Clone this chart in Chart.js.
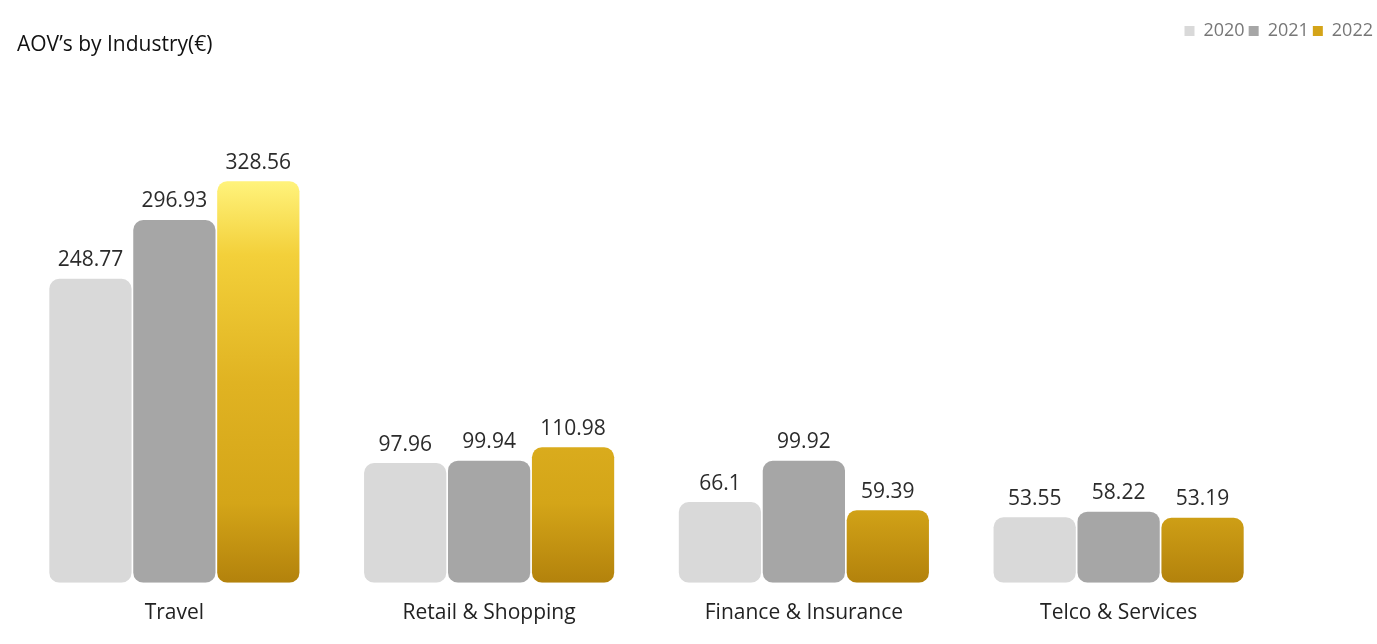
<!DOCTYPE html>
<html>
<head>
<meta charset="utf-8">
<script src="https://cdn.jsdelivr.net/npm/chart.js@4"></script>
<style>
  html, body { margin: 0; padding: 0; background: #fff; }
  #wrap { width: 1377px; height: 644px; }
</style>
</head>
<body>
<div id="wrap"><canvas id="aovChart"></canvas></div>
<script>
const industries = ['Travel', 'Retail & Shopping', 'Finance & Insurance', 'Telco & Services'];
const years = ['2020', '2021', '2022'];
const aov2020 = [248.77, 97.96, 66.1, 53.55];
const aov2021 = [296.93, 99.94, 99.92, 58.22];
const aov2022 = [328.56, 110.98, 59.39, 53.19];

const FONT = "'Open Sans', 'Noto Sans', sans-serif";

// gold foil look, spread over the plot height
function goldFill(context) {
    const chart = context.chart;
    const area = chart.chartArea;
    if (!area) return '#d4a418';
    const g = chart.ctx.createLinearGradient(0, area.bottom - 400, 0, area.bottom);
    g.addColorStop(0, '#fff27a');
    g.addColorStop(0.18, '#f3d03a');
    g.addColorStop(0.5, '#e0b322');
    g.addColorStop(0.8, '#d4a518');
    g.addColorStop(1, '#b3820c');
    return g;
}

const valueLabels = {
    id: 'valueLabels',
    afterDatasetsDraw(chart) {
        const ctx = chart.ctx;
        ctx.save();
        ctx.font = '21px ' + FONT;
        ctx.fillStyle = '#2b2b2b';
        ctx.textAlign = 'center';
        ctx.textBaseline = 'bottom';
        chart.data.datasets.forEach((ds, i) => {
            chart.getDatasetMeta(i).data.forEach((bar, j) => {
                ctx.fillText(String(ds.data[j]), bar.x, bar.y - 8);
            });
        });
        ctx.restore();
    }
};

const ctx = document.getElementById('aovChart').getContext('2d');

const aovChart = new Chart(ctx, {
    type: 'bar',
    data: {
        labels: industries,
        datasets: [
            { label: years[0], data: aov2020, backgroundColor: '#d9d9d9' },
            { label: years[1], data: aov2021, backgroundColor: '#a6a6a6' },
            { label: years[2], data: aov2022, backgroundColor: goldFill }
        ]
    },
    options: {
        responsive: true,
        maintainAspectRatio: false,
        animation: false,
        datasets: {
            bar: {
                categoryPercentage: 0.8,
                barPercentage: 0.98,
                borderRadius: 10,
                borderSkipped: false
            }
        },
        layout: {
            padding: { left: 17, right: 0, top: 18, bottom: 8 }
        },
        plugins: {
            legend: {
                position: 'top',
                align: 'end',
                weight: 3000,
                labels: {
                    boxWidth: 10,
                    boxHeight: 10,
                    padding: 4,
                    color: '#777',
                    font: { family: FONT, size: 18 },
                    generateLabels(chart) {
                        const items = Chart.defaults.plugins.legend.labels.generateLabels(chart);
                        items[2].fillStyle = '#d4a418';
                        items.forEach(it => { it.lineWidth = 0; it.strokeStyle = 'transparent'; });
                        return items;
                    }
                }
            },
            title: {
                display: true,
                text: 'AOV\u2019s by Industry(\u20ac)',
                align: 'start',
                color: '#111',
                font: { family: FONT, size: 21, weight: 'normal' },
                padding: { top: -18, bottom: 10 }
            },
            tooltip: { enabled: false }
        },
        scales: {
            x: {
                grid: { display: false },
                border: { display: false },
                ticks: {
                    color: '#222',
                    font: { family: FONT, size: 21 },
                    padding: 10
                }
            },
            y: {
                position: 'right',
                min: 0,
                max: 422,
                grid: { display: false },
                border: { display: false },
                ticks: { display: false },
                afterFit(scale) { scale.width = 101; }
            }
        }
    },
    plugins: [valueLabels]
});
</script>
</body>
</html>
